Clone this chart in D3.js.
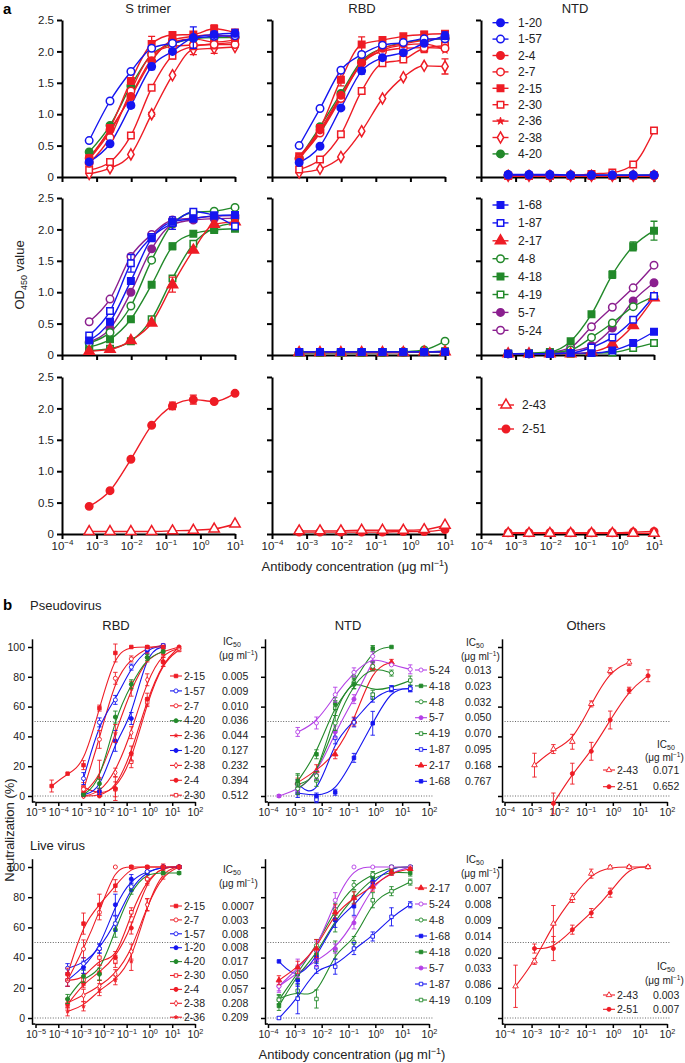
<!DOCTYPE html>
<html>
<head>
<meta charset="utf-8">
<script src="https://cdn.jsdelivr.net/npm/d3@7"></script>
<style>
body { margin: 0; background: #fff; }
svg { font-family: "Liberation Sans", Arial, Helvetica, sans-serif; }
</style>
</head>
<body>
<svg id="fig" width="685" height="1063"></svg>
<script>
// ---------- panel a : ELISA OD450, 4-fold dilutions from 10 ug/ml ----------
var concA = [0.00061, 0.00244, 0.0098, 0.039, 0.156, 0.625, 2.5, 10];
var decA = [1e-4, 1e-3, 1e-2, 1e-1, 1, 10];

var abGroup1 = ['1-20', '1-57', '2-4', '2-7', '2-15', '2-30', '2-36', '2-38', '4-20'];
var abGroup2 = ['1-68', '1-87', '2-17', '4-8', '4-18', '4-19', '5-7', '5-24'];
var abGroup3 = ['2-43', '2-51'];

var sTrimer1 = [
  {ab: '1-20', y: [0.24, 0.53, 1.14, 1.76, 2.00, 2.22, 2.27, 2.29], e: [0, 0, 0.04, 0.05, 0, 0.17, 0.05, 0.06]},
  {ab: '1-57', y: [0.58, 1.21, 1.68, 2.05, 2.13, 2.21, 2.24, 2.25]},
  {ab: '2-4',  y: [0.30, 0.75, 1.28, 1.85, 2.18, 2.24, 2.26, 2.22]},
  {ab: '2-7',  y: [0.22, 0.63, 1.37, 1.95, 2.08, 2.10, 2.11, 2.11]},
  {ab: '2-15', y: [0.30, 0.78, 1.53, 2.12, 2.26, 2.27, 2.36, 2.30], e: [0, 0, 0, 0.12, 0, 0, 0.06, 0]},
  {ab: '2-30', y: [0.11, 0.24, 0.66, 1.42, 1.93, 2.08, 2.12, 2.14], e: [0, 0, 0, 0, 0.05, 0, 0.08, 0]},
  {ab: '2-36', y: [0.28, 0.72, 1.30, 1.88, 2.15, 2.20, 2.15, 2.18]},
  {ab: '2-38', y: [0.05, 0.14, 0.36, 1.00, 1.62, 2.03, 2.05, 2.07], e: [0, 0, 0, 0.03, 0, 0.08, 0.08, 0]},
  {ab: '4-20', y: [0.40, 0.82, 1.45, 1.95, 2.12, 2.20, 2.22, 2.22]}
];
var rbd1 = [
  {ab: '1-20', y: [0.23, 0.49, 1.10, 1.69, 1.90, 1.98, 2.13, 2.25], e: [0, 0, 0, 0.05, 0, 0, 0, 0.06]},
  {ab: '1-57', y: [0.50, 1.09, 1.70, 1.95, 2.10, 2.14, 2.20, 2.20]},
  {ab: '2-4',  y: [0.28, 0.75, 1.30, 1.82, 2.05, 2.12, 2.18, 2.22]},
  {ab: '2-7',  y: [0.30, 0.70, 1.25, 1.82, 2.00, 2.05, 2.06, 2.05]},
  {ab: '2-15', y: [0.33, 0.78, 1.55, 2.11, 2.18, 2.24, 2.27, 2.28], e: [0, 0, 0.1, 0.12, 0, 0, 0.05, 0]},
  {ab: '2-30', y: [0.12, 0.28, 0.68, 1.37, 1.81, 1.87, 2.05, 2.09], e: [0, 0, 0, 0.05, 0, 0, 0.07, 0.07]},
  {ab: '2-36', y: [0.30, 0.72, 1.28, 1.80, 2.02, 2.10, 2.12, 2.02]},
  {ab: '2-38', y: [0.07, 0.13, 0.32, 0.73, 1.25, 1.59, 1.77, 1.76], e: [0, 0, 0, 0, 0, 0, 0, 0.12]},
  {ab: '4-20', y: [0.30, 0.80, 1.33, 1.85, 2.05, 2.14, 2.18, 2.20]}
];
var ntd1 = [
  {ab: '1-20', y: [0.04, 0.04, 0.04, 0.03, 0.03, 0.03, 0.03, 0.03]},
  {ab: '1-57', y: [0.03, 0.03, 0.03, 0.03, 0.03, 0.03, 0.03, 0.03]},
  {ab: '2-4',  y: [0.02, 0.02, 0.02, 0.02, 0.02, 0.02, 0.02, 0.02]},
  {ab: '2-7',  y: [0.02, 0.02, 0.02, 0.02, 0.02, 0.02, 0.02, 0.02]},
  {ab: '2-15', y: [0.02, 0.02, 0.02, 0.02, 0.02, 0.02, 0.02, 0.03]},
  {ab: '2-30', y: [0.02, 0.02, 0.02, 0.02, 0.05, 0.07, 0.20, 0.74]},
  {ab: '2-36', y: [0.02, 0.02, 0.02, 0.02, 0.02, 0.02, 0.02, 0.02]},
  {ab: '2-38', y: [0.02, 0.02, 0.02, 0.02, 0.02, 0.02, 0.02, 0.02]},
  {ab: '4-20', y: [0.03, 0.03, 0.03, 0.03, 0.03, 0.03, 0.03, 0.03]}
];
var sTrimer2 = [
  {ab: '1-68', y: [0.23, 0.53, 1.18, 1.86, 2.12, 2.17, 2.22, 2.23]},
  {ab: '1-87', y: [0.31, 0.70, 1.46, 1.88, 2.10, 2.28, 2.22, 2.05], e: [0, 0, 0.14, 0, 0.1, 0, 0, 0]},
  {ab: '2-17', y: [0.06, 0.09, 0.23, 0.51, 1.12, 1.67, 2.08, 2.12], e: [0, 0, 0, 0, 0.12, 0, 0, 0]},
  {ab: '4-8',  y: [0.19, 0.36, 0.78, 1.51, 2.09, 2.27, 2.29, 2.35]},
  {ab: '4-18', y: [0.13, 0.25, 0.57, 1.12, 1.73, 1.93, 1.99, 2.01], e: [0, 0, 0, 0, 0.05, 0, 0, 0]},
  {ab: '4-19', y: [0.07, 0.10, 0.22, 0.57, 1.22, 1.77, 2.02, 2.10]},
  {ab: '5-7',  y: [0.21, 0.42, 1.00, 1.69, 2.08, 2.15, 2.17, 2.18]},
  {ab: '5-24', y: [0.53, 0.89, 1.57, 1.92, 2.15, 2.18, 2.21, 2.22]}
];
var rbd2 = [
  {ab: '1-68', y: [0.05, 0.05, 0.05, 0.05, 0.05, 0.05, 0.05, 0.05]},
  {ab: '1-87', y: [0.05, 0.05, 0.05, 0.05, 0.05, 0.05, 0.05, 0.05]},
  {ab: '2-17', y: [0.04, 0.04, 0.04, 0.04, 0.04, 0.04, 0.05, 0.05]},
  {ab: '4-8',  y: [0.04, 0.04, 0.04, 0.04, 0.04, 0.05, 0.08, 0.22]},
  {ab: '4-18', y: [0.04, 0.04, 0.04, 0.04, 0.05, 0.05, 0.05, 0.06]},
  {ab: '4-19', y: [0.04, 0.04, 0.04, 0.04, 0.04, 0.04, 0.05, 0.05]},
  {ab: '5-7',  y: [0.04, 0.04, 0.04, 0.04, 0.04, 0.04, 0.05, 0.05]},
  {ab: '5-24', y: [0.04, 0.04, 0.04, 0.04, 0.04, 0.05, 0.05, 0.06]}
];
var ntd2 = [
  {ab: '1-68', y: [0.02, 0.02, 0.02, 0.03, 0.03, 0.07, 0.19, 0.37], e: [0, 0, 0, 0, 0, 0, 0.05, 0]},
  {ab: '1-87', y: [0.02, 0.02, 0.02, 0.03, 0.12, 0.28, 0.56, 0.94]},
  {ab: '2-17', y: [0.02, 0.02, 0.02, 0.02, 0.05, 0.17, 0.47, 0.91]},
  {ab: '4-8',  y: [0.02, 0.02, 0.04, 0.08, 0.28, 0.51, 0.77, 0.93]},
  {ab: '4-18', y: [0.02, 0.03, 0.05, 0.22, 0.65, 1.28, 1.73, 1.98], e: [0, 0, 0, 0, 0, 0.06, 0.07, 0.15]},
  {ab: '4-19', y: [0.02, 0.02, 0.02, 0.02, 0.03, 0.04, 0.11, 0.19]},
  {ab: '5-7',  y: [0.02, 0.02, 0.03, 0.06, 0.15, 0.43, 0.86, 1.15]},
  {ab: '5-24', y: [0.02, 0.02, 0.04, 0.12, 0.45, 0.76, 1.07, 1.43]}
];
var sTrimer3 = [
  {ab: '2-43', y: [0.04, 0.04, 0.04, 0.04, 0.05, 0.06, 0.08, 0.16]},
  {ab: '2-51', y: [0.44, 0.69, 1.19, 1.73, 2.04, 2.14, 2.11, 2.24], e: [0, 0, 0, 0, 0.06, 0.07, 0, 0]}
];
var rbd3 = [
  {ab: '2-43', y: [0.05, 0.05, 0.05, 0.06, 0.06, 0.06, 0.07, 0.14]},
  {ab: '2-51', y: [0.03, 0.03, 0.03, 0.03, 0.03, 0.04, 0.04, 0.07]}
];
var ntd3 = [
  {ab: '2-43', y: [0.01, 0.01, 0.01, 0.01, 0.01, 0.01, 0.01, 0.01]},
  {ab: '2-51', y: [0.02, 0.02, 0.02, 0.02, 0.02, 0.02, 0.03, 0.04]}
];

// ---------- panel b : neutralization (%), 5-fold dilutions from 20 ug/ml ----------
var concP = [5.12e-5, 2.56e-4, 1.28e-3, 6.4e-3, 0.032, 0.16, 0.8, 4, 20];
var concL = [2.56e-4, 1.28e-3, 6.4e-3, 0.032, 0.16, 0.8, 4, 20];

var pseudoRBD = [
  {ab: '2-15', ic: '0.005', y: [6.7, 15, 20.7, 59, 96, 100, 100, 100, null], e: [4, 0, 3, 2, 6, 0, 1, 1, 0]},
  {ab: '1-57', ic: '0.009', y: [null, null, 11.7, 49.4, 64.5, 86.5, 98.7, 101, null], e: [0, 0, 4, 3, 3, 2, 1, 1, 0]},
  {ab: '2-7',  ic: '0.010', y: [null, null, 4.5, 38, 79, 92, 99.8, 101, null], e: [0, 0, 2, 6, 4, 2, 1, 1, 0]},
  {ab: '4-20', ic: '0.036', y: [null, null, 1, 8.3, 53, 75, 93, 97, null], e: [0, 0, 1, 3, 4, 3, 2, 1, 0]},
  {ab: '2-36', ic: '0.044', y: [null, null, 2, 12, 42, 72, 93, 97, 100], e: [0, 0, 2, 12, 6, 5, 3, 2, 0]},
  {ab: '1-20', ic: '0.127', y: [null, null, 1, 3, 37, 52, 97.5, 100, null], e: [0, 0, 1, 2, 7, 4, 2, 1, 0]},
  {ab: '2-38', ic: '0.232', y: [null, null, 0, 2, 15.7, 42.5, 78, 96, 99], e: [0, 0, 0, 2, 3, 4, 4, 2, 0]},
  {ab: '2-4',  ic: '0.394', y: [null, null, 0, 0, 5, 28.5, 65, 90, 100], e: [0, 0, 0, 0, 8, 5, 4, 3, 0]},
  {ab: '2-30', ic: '0.512', y: [null, null, 6, 1, 4.5, 23, 63, 90, 98], e: [0, 0, 3, 1, 5, 4, 3, 3, 1]}
];
var pseudoNTD = [
  {ab: '5-24', ic: '0.013', y: [null, null, 43, 49, 68, 83, 93.7, 88, 85], e: [0, 0, 3, 4, 5, 3, 3, 0, 3]},
  {ab: '4-18', ic: '0.023', y: [null, null, 10, 28, 62, 75, 99, 100, null], e: [0, 0, 4, 3, 4, 3, 2, 0, 0]},
  {ab: '4-8',  ic: '0.032', y: [null, null, 5, 13.5, 49, 76, 87, 82.5, null], e: [0, 0, 3, 3, 5, 4, 3, 2, 0]},
  {ab: '5-7',  ic: '0.050', y: [null, 0, 4, 14, 43, 65, 90, null, null], e: [0, 1, 2, 3, 4, 3, 0, 0, 0]},
  {ab: '4-19', ic: '0.070', y: [null, null, 8, 10.5, 59, 80, 68, null, 77.5], e: [0, 0, 7, 4, 5, 3, 3, 0, 3]},
  {ab: '1-87', ic: '0.095', y: [null, null, 8, -2.5, 39, 49.4, 66, 72, 72], e: [0, 0, 3, 2, 4, 3, 3, 2, 2]},
  {ab: '2-17', ic: '0.168', y: [null, null, 9, 17, 28, 50, 86, 89.7, null], e: [0, 0, 3, 4, 3, 3, 2, 2, 0]},
  {ab: '1-68', ic: '0.767', y: [null, null, 2, 0, 2.5, 25.6, 48.8, 72, 72], e: [0, 0, 3, 2, 2, 3, 8, 2, 2]}
];
var pseudoOther = [
  {ab: '2-43', ic: '0.071', y: [null, null, 20.7, 31.5, 36.4, 61.8, 84, 89.7, null], e: [0, 0, 8, 3, 5, 2, 2, 2, 0]},
  {ab: '2-51', ic: '0.652', y: [null, null, null, -5, 15, 30, 51, 71, 80.7], e: [0, 0, 0, 7, 7, 6, 6, 2, 4]}
];
var liveRBD = [
  {ab: '2-15', ic: '0.0007', y: [29, 62.5, 75, 87.6, 100, 100, 100, 100], e: [4, 7, 7, 4, 1, 1, 1, 1]},
  {ab: '2-7',  ic: '0.003', y: [25, 45.7, 70, 100, 100, 100, 100, 100], e: [4, 6, 5, 0, 0, 0, 0, 0]},
  {ab: '1-57', ic: '0.008', y: [33, 36, 46, 62.5, 87, 97, 100, 100], e: [3, 4, 3, 5, 3, 2, 1, 1]},
  {ab: '1-20', ic: '0.008', y: [25, 33.6, 46, 75, 92, 97, 100, 100], e: [4, 4, 3, 7, 3, 2, 1, 1]},
  {ab: '4-20', ic: '0.017', y: [12.6, 27.6, 29, 58.5, 85, 96, 96, 96], e: [3, 4, 4, 5, 3, 1, 1, 1]},
  {ab: '2-30', ic: '0.050', y: [25, 25.4, 40, 37.5, 70, 92, 100, 100], e: [4, 4, 5, 4, 3, 3, 1, 1]},
  {ab: '2-4',  ic: '0.057', y: [9, 23, 30, 40, 59.6, 92, 100, 100], e: [3, 3, 5, 4, 4, 4, 2, 1]},
  {ab: '2-38', ic: '0.208', y: [10, 15, 21, 29, 44, 75, 95, 100], e: [3, 4, 4, 3, 5, 4, 3, 1]},
  {ab: '2-36', ic: '0.209', y: [4.4, 7.7, 18.8, 25, 37.5, 75, 98, 100], e: [3, 3, 4, 3, 6, 4, 3, 1]}
];
var liveNTD = [
  {ab: '2-17', ic: '0.007', y: [25, 33.6, 46, 70, 79.5, 87, 96.5, 98.7], e: [3, 4, 6, 5, 4, 3, 2, 1]},
  {ab: '5-24', ic: '0.008', y: [21, 33, 45, 78, 100, 100, 100, 100], e: [3, 6, 6, 5, 0, 0, 0, 0]},
  {ab: '4-8',  ic: '0.009', y: [12, 30, 48, 72, 88, 95, 100, 100], e: [3, 4, 4, 4, 3, 2, 1, 1]},
  {ab: '1-68', ic: '0.014', y: [37.5, 25, 40, 65, 74, 90, 100, 100], e: [0, 4, 4, 5, 6, 3, 1, 1]},
  {ab: '4-18', ic: '0.020', y: [8, 29, 42, 65, 80, 93, 97, 96], e: [3, 4, 5, 8, 4, 3, 2, 2]},
  {ab: '5-7',  ic: '0.033', y: [21, 30, 38, 46, 63, 88, 96.5, 100], e: [4, 5, 4, 3, 4, 3, 2, 1]},
  {ab: '1-87', ic: '0.086', y: [0, 12.8, 33.6, 34, 46, 54, 67, 75], e: [1, 10, 4, 5, 4, 3, 6, 2]},
  {ab: '4-19', ic: '0.109', y: [12.6, 18, 12.6, 45, 50, 78, 84, 90], e: [3, 4, 6, 6, 4, 5, 3, 2]}
];
var liveOther = [
  {ab: '2-43', ic: '0.003', y: [21, 37.5, 62.5, 79.5, 95.6, 99.8, 100, 100], e: [14, 2, 12, 3, 3, 1, 1, 1]},
  {ab: '2-51', ic: '0.007', y: [null, 46, 46, 58.5, 69.5, 83, 100, 100], e: [0, 3, 8, 3, 3, 3, 1, 1]}
];

// ---------- styles ----------
var RED = '#ee1c25', BLUE = '#1515f0', GREEN = '#22892a', PURPLE = '#8b1f8f', VIOLET = '#b440e6';
var abStyle = {
  '1-20': {c: BLUE, s: 'circle', f: true},   '1-57': {c: BLUE, s: 'circle', f: false},
  '2-4':  {c: RED, s: 'circle', f: true},    '2-7':  {c: RED, s: 'circle', f: false},
  '2-15': {c: RED, s: 'square', f: true},    '2-30': {c: RED, s: 'square', f: false},
  '2-36': {c: RED, s: 'star', f: true},      '2-38': {c: RED, s: 'diamond', f: false},
  '4-20': {c: GREEN, s: 'circle', f: true},  '1-68': {c: BLUE, s: 'square', f: true},
  '1-87': {c: BLUE, s: 'square', f: false},  '2-17': {c: RED, s: 'triangle', f: true},
  '4-8':  {c: GREEN, s: 'circle', f: false}, '4-18': {c: GREEN, s: 'square', f: true},
  '4-19': {c: GREEN, s: 'square', f: false}, '5-7':  {c: PURPLE, s: 'circle', f: true},
  '5-24': {c: PURPLE, s: 'circle', f: false},'2-43': {c: RED, s: 'triangle', f: false},
  '2-51': {c: RED, s: 'circle', f: true}
};
var symType = {circle: d3.symbolCircle, square: d3.symbolSquare, triangle: d3.symbolTriangle,
               diamond: d3.symbolDiamond, star: d3.symbolStar};
var symMul = {circle: 1, square: 0.95, triangle: 1.05, diamond: 0.8, star: 0.4};

var svg = d3.select('#fig');

function styleOf(ab, violet) {
  var st = abStyle[ab];
  if (violet && st.c === PURPLE) return {c: VIOLET, s: st.s, f: st.f};
  return st;
}

function marker(g, x, y, st, size, sw) {
  g.append('path')
    .attr('transform', 'translate(' + x + ',' + y + ')')
    .attr('d', d3.symbol().type(symType[st.s]).size(size * symMul[st.s])())
    .attr('fill', st.f ? st.c : '#fff')
    .attr('stroke', st.c)
    .attr('stroke-width', st.s === 'star' ? sw * 0.6 : sw);
}

function powLabels(axisG, fs) {
  axisG.selectAll('.tick text').each(function (d) {
    var t = d3.select(this).text('');
    var e = Math.round(Math.log10(d));
    t.append('tspan').text('10');
    t.append('tspan').attr('dy', -fs * 0.42).attr('font-size', fs * 0.7)
      .text(e < 0 ? '\u2212' + (-e) : String(e));
  });
}

function styleAxis(axisG, sw, fs) {
  axisG.select('.domain').attr('stroke', '#000').attr('stroke-width', sw);
  axisG.selectAll('.tick line').attr('stroke', '#000').attr('stroke-width', sw);
  axisG.selectAll('.tick text').attr('font-size', fs).attr('fill', '#222')
    .attr('font-family', '"Liberation Sans", Arial, sans-serif');
}

// ---------- panel a ----------
var colA = [62, 272, 481], wA = 173;
var topA = [20, 198, 377], botA = [177, 355, 534];

function plotA(ci, ri, list) {
  var x = d3.scaleLog().domain([1e-4, 10]).range([colA[ci], colA[ci] + wA]);
  var y = d3.scaleLinear().domain([0, 2.5]).range([botA[ri], topA[ri]]);
  var g = svg.append('g');

  var lineGen = d3.line()
    .x(function (d, i) { return x(concA[i]); })
    .y(function (d) { return y(d); })
    .curve(d3.curveMonotoneX);

  var xa = g.append('g').attr('transform', 'translate(0,' + botA[ri] + ')')
    .call(d3.axisBottom(x).tickValues(decA).tickSize(5).tickSizeOuter(0)
      .tickFormat(function () { return ''; }));
  styleAxis(xa, 2, 11.5);
  if (ri === 2) powLabels(xa, 11.5);

  var ya = g.append('g').attr('transform', 'translate(' + colA[ci] + ',0)')
    .call(d3.axisLeft(y).tickValues([0, 0.5, 1, 1.5, 2, 2.5]).tickSize(5).tickSizeOuter(0)
      .tickFormat(function (d) { return ci === 0 ? (d === 0 ? '0' : d3.format('.1f')(d)) : ''; }));
  styleAxis(ya, 2, 11.5);

  var series = list.slice().reverse();
  series.forEach(function (s) {
    var st = styleOf(s.ab, false);
    g.append('path').attr('d', lineGen(s.y)).attr('fill', 'none')
      .attr('stroke', st.c).attr('stroke-width', 1.4);
  });
  series.forEach(function (s) {
    var st = styleOf(s.ab, false);
    s.y.forEach(function (v, i) {
      var px = x(concA[i]), py = y(v);
      var ev = s.e ? s.e[i] : 0;
      if (ev > 0) {
        g.append('path')
          .attr('d', 'M' + px + ',' + y(v - ev) + 'V' + y(v + ev) +
            'M' + (px - 3.5) + ',' + y(v + ev) + 'H' + (px + 3.5) +
            'M' + (px - 3.5) + ',' + y(v - ev) + 'H' + (px + 3.5))
          .attr('stroke', st.c).attr('stroke-width', 1.3).attr('fill', 'none');
      }
      marker(g, px, py, st, 44, 1.5);
    });
  });
}

plotA(0, 0, sTrimer1); plotA(1, 0, rbd1); plotA(2, 0, ntd1);
plotA(0, 1, sTrimer2); plotA(1, 1, rbd2); plotA(2, 1, ntd2);
plotA(0, 2, sTrimer3); plotA(1, 2, rbd3); plotA(2, 2, ntd3);

function legendA(names, y0, dy, mx, tx) {
  names.forEach(function (ab, i) {
    var st = styleOf(ab, false), yy = y0 + dy * i;
    svg.append('line').attr('x1', mx - 8).attr('x2', mx + 8).attr('y1', yy).attr('y2', yy)
      .attr('stroke', st.c).attr('stroke-width', 1.4);
    marker(svg, mx, yy, st, 44, 1.5);
    svg.append('text').attr('x', tx).attr('y', yy).attr('dy', '0.36em')
      .attr('font-size', 12).attr('fill', '#222').text(ab);
  });
}
legendA(abGroup1, 22.7, 16.4, 500.5, 518);
legendA(abGroup2, 205, 17.9, 500.5, 518);
legendA(abGroup3, 405, 24, 506, 522);

// panel a titles / labels
svg.append('text').attr('x', 3).attr('y', 14).attr('font-size', 15).attr('font-weight', 'bold').text('a');
[['S trimer', 148], ['RBD', 362], ['NTD', 575]].forEach(function (t) {
  svg.append('text').attr('x', t[1]).attr('y', 13).attr('text-anchor', 'middle')
    .attr('font-size', 13).attr('fill', '#222').text(t[0]);
});
var odLab = svg.append('text').attr('transform', 'translate(24,275) rotate(-90)')
  .attr('text-anchor', 'middle').attr('font-size', 13).attr('fill', '#222');
odLab.append('tspan').text('OD');
odLab.append('tspan').attr('font-size', 9).attr('dy', 3).text('450');
odLab.append('tspan').attr('dy', -3).text(' value');

function concLabel(cx, cy) {
  var t = svg.append('text').attr('x', cx).attr('y', cy).attr('text-anchor', 'middle')
    .attr('font-size', 13).attr('fill', '#222');
  t.append('tspan').text('Antibody concentration (\u03bcg ml');
  t.append('tspan').attr('font-size', 9).attr('dy', -5).text('\u22121');
  t.append('tspan').attr('dy', 5).text(')');
}
concLabel(355, 571);

// ---------- panel b ----------
var colB = [
  {ax: 32, r0: 35.5, r1: 195, dom: [1e-5, 100]},
  {ax: 265, r0: 268, r1: 429, dom: [1e-4, 100]},
  {ax: 502, r0: 504.5, r1: 667, dom: [1e-4, 100]}
];
var rowB = [{y0: 796, y100: 647}, {y0: 1018, y100: 867}];

function plotB(ci, ri, list, conc) {
  var c = colB[ci], r = rowB[ri];
  var x = d3.scaleLog().domain(c.dom).range([c.r0, c.r1]);
  var y = d3.scaleLinear().domain([0, 100]).range([r.y0, r.y100]);
  var yAx = d3.scaleLinear().domain([-4, 105.5]).range([y(-4), y(105.5)]);
  var g = svg.append('g');
  var decs = [];
  for (var p = Math.round(Math.log10(c.dom[0])); p <= 2; p++) decs.push(Math.pow(10, p));

  // dotted reference lines at 50 % and 0 %
  [50, 0].forEach(function (v) {
    g.append('line').attr('x1', c.ax).attr('x2', c.r1 + 4).attr('y1', y(v)).attr('y2', y(v))
      .attr('stroke', '#555').attr('stroke-width', 0.9).attr('stroke-dasharray', '1,1.6');
  });

  var xa = g.append('g').attr('transform', 'translate(0,' + y(-4) + ')')
    .call(d3.axisBottom(x).tickValues(decs).tickSize(4).tickSizeOuter(0)
      .tickFormat(function () { return ''; }));
  styleAxis(xa, 1.5, 10.5);
  powLabels(xa, 10.5);
  g.append('line').attr('x1', c.ax).attr('x2', c.r0).attr('y1', y(-4)).attr('y2', y(-4))
    .attr('stroke', '#000').attr('stroke-width', 1.5);

  var ya = g.append('g').attr('transform', 'translate(' + c.ax + ',0)')
    .call(d3.axisLeft(yAx).tickValues([0, 20, 40, 60, 80, 100]).tickSize(4).tickSizeOuter(0)
      .tickFormat(function (d) { return ci === 0 ? d : ''; }));
  styleAxis(ya, 1.5, 10.5);

  var lineGen = d3.line()
    .x(function (d) { return x(d[0]); })
    .y(function (d) { return y(d[1]); })
    .curve(d3.curveBasis);

  var series = list.slice().reverse();
  series.forEach(function (s) {
    var st = styleOf(s.ab, true);
    var pts = [];
    s.y.forEach(function (v, i) { if (v !== null) pts.push([conc[i], v]); });
    g.append('path').attr('d', lineGen(pts)).attr('fill', 'none')
      .attr('stroke', st.c).attr('stroke-width', 1.1);
  });
  series.forEach(function (s) {
    var st = styleOf(s.ab, true);
    s.y.forEach(function (v, i) {
      if (v === null) return;
      var px = x(conc[i]), ev = s.e[i];
      if (ev > 0) {
        g.append('path')
          .attr('d', 'M' + px + ',' + y(v - ev) + 'V' + y(v + ev) +
            'M' + (px - 2.2) + ',' + y(v + ev) + 'H' + (px + 2.2) +
            'M' + (px - 2.2) + ',' + y(v - ev) + 'H' + (px + 2.2))
          .attr('stroke', st.c).attr('stroke-width', 0.9).attr('fill', 'none');
      }
      marker(g, px, y(v), st, 13, 0.9);
    });
  });
}

function legendB(list, y0, dy, mx, tx, vx, hy1, hy2, hx1, hx2) {
  list.forEach(function (s, i) {
    var st = styleOf(s.ab, true), yy = y0 + dy * i;
    svg.append('line').attr('x1', mx - 6).attr('x2', mx + 6).attr('y1', yy).attr('y2', yy)
      .attr('stroke', st.c).attr('stroke-width', 1.1);
    marker(svg, mx, yy, st, 13, 0.9);
    svg.append('text').attr('x', tx).attr('y', yy).attr('dy', '0.36em')
      .attr('font-size', 10.5).attr('fill', '#222').text(s.ab);
    svg.append('text').attr('x', vx).attr('y', yy).attr('dy', '0.36em')
      .attr('font-size', 10.5).attr('fill', '#222').text(s.ic);
  });
  var h1 = svg.append('text').attr('x', hx1).attr('y', hy1).attr('dy', '0.36em')
    .attr('font-size', 10).attr('fill', '#222');
  h1.append('tspan').text('IC');
  h1.append('tspan').attr('font-size', 7).attr('dy', 2.5).text('50');
  var h2 = svg.append('text').attr('x', hx2).attr('y', hy2).attr('dy', '0.36em')
    .attr('font-size', 10).attr('fill', '#222');
  h2.append('tspan').text('(\u03bcg ml');
  h2.append('tspan').attr('font-size', 6.5).attr('dy', -4).text('\u22121');
  h2.append('tspan').attr('dy', 4).text(')');
}

plotB(0, 0, pseudoRBD, concP);
plotB(1, 0, pseudoNTD, concP);
plotB(2, 0, pseudoOther, concP);
plotB(0, 1, liveRBD, concL);
plotB(1, 1, liveNTD, concL);
plotB(2, 1, liveOther, concL);

legendB(pseudoRBD, 676, 14.9, 176, 184, 222, 641, 655, 223, 219);
legendB(pseudoNTD, 670, 15.9, 421, 429, 465, 642, 656, 466, 461);
legendB(pseudoOther, 770, 16.7, 609, 617, 653, 744, 757, 657, 645);
legendB(liveRBD, 906, 13.9, 176, 184, 222, 869, 883, 223, 219);
legendB(liveNTD, 888, 16, 421, 429, 465, 859, 873, 466, 461);
legendB(liveOther, 995, 14.3, 609, 617, 653, 966, 980, 657, 645);

svg.append('text').attr('x', 3).attr('y', 610).attr('font-size', 15).attr('font-weight', 'bold').text('b');
svg.append('text').attr('x', 30).attr('y', 610).attr('font-size', 13).attr('fill', '#222').text('Pseudovirus');
svg.append('text').attr('x', 30).attr('y', 850).attr('font-size', 13).attr('fill', '#222').text('Live virus');
[['RBD', 116], ['NTD', 348], ['Others', 586]].forEach(function (t) {
  svg.append('text').attr('x', t[1]).attr('y', 630).attr('text-anchor', 'middle')
    .attr('font-size', 13).attr('fill', '#222').text(t[0]);
});
svg.append('text').attr('transform', 'translate(14,830) rotate(-90)')
  .attr('text-anchor', 'middle').attr('font-size', 13).attr('fill', '#222').text('Neutralization (%)');
concLabel(352, 1059);
</script>
</body>
</html>
